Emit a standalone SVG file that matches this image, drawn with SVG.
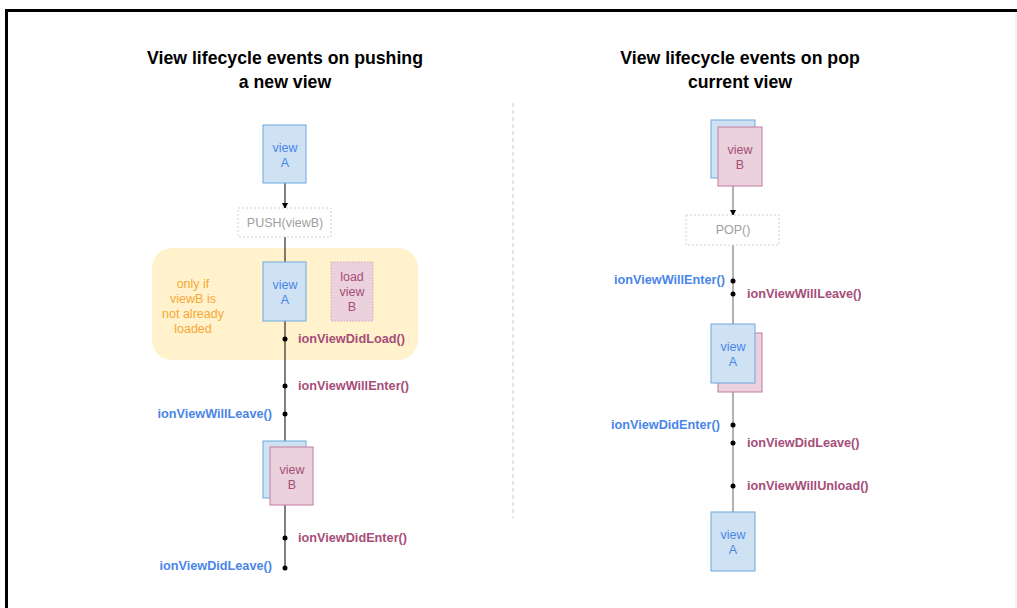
<svg xmlns="http://www.w3.org/2000/svg" width="1017" height="608" viewBox="0 0 1017 608">
<defs>
<marker id="ah" markerWidth="6" markerHeight="6" refX="5" refY="3" orient="auto" markerUnits="userSpaceOnUse"><path d="M0,0 L6,3 L0,6 z" fill="#000"/></marker>
<style>
text{font-family:"Liberation Sans",Arial,sans-serif}
.title{font-size:17.7px;font-weight:bold;fill:#000;text-anchor:middle}
.blue{fill:#cfe2f3;stroke:#6fa8dc;stroke-width:1}
.pink{fill:#ead1dc;stroke:#c27ba0;stroke-width:1}
.bt{fill:#4a86e8;font-size:12.5px;text-anchor:middle}
.pt{fill:#a64d79;font-size:12.5px;text-anchor:middle}
.ev{font-size:12.7px;font-weight:bold}
.evb{fill:#4a86e8;text-anchor:end}
.evp{fill:#a64d79}
.op{fill:#fff;stroke:#d0d0d0;stroke-dasharray:2,2;stroke-width:1}
.opt{fill:#a0a0a0;font-size:12.5px;text-anchor:middle}
.dot{fill:#000}
.note{font-size:12.5px;fill:#f6a735;text-anchor:middle}
</style>
</defs>
<rect x="0" y="0" width="1017" height="608" fill="#fff"/>
<path d="M6.5,608 V10.5 H1017" fill="none" stroke="#000" stroke-width="3"/>
<line x1="1016" y1="12" x2="1016" y2="608" stroke="#e6e6e6" stroke-width="1"/>
<line x1="513" y1="103" x2="513" y2="518" stroke="#cccccc" stroke-width="1" stroke-dasharray="4,3"/>

<text class="title" x="285" y="64">View lifecycle events on pushing</text>
<text class="title" x="285" y="88">a new view</text>
<text class="title" x="740" y="64">View lifecycle events on pop</text>
<text class="title" x="740" y="88">current view</text>

<g id="optional-region">
<rect x="152" y="248" width="266" height="112" rx="20" fill="#fff2cc"/>
<text class="note" x="193" y="288">only if</text>
<text class="note" x="193" y="303">viewB is</text>
<text class="note" x="193" y="318">not already</text>
<text class="note" x="193" y="333">loaded</text>
</g>

<g id="connectors">
<line x1="285" y1="183" x2="285" y2="208" stroke="#000" stroke-width="1" marker-end="url(#ah)"/>
<line x1="285" y1="237" x2="285" y2="568" stroke="#000" stroke-width="1"/>
<line x1="733" y1="186" x2="733" y2="215" stroke="#999" stroke-width="1.5" marker-end="url(#ah)"/>
<line x1="733" y1="245" x2="733" y2="512" stroke="#999" stroke-width="1.5"/>
</g>

<g id="left-viewA-top">
<rect class="blue" x="263" y="125" width="43" height="58"/>
<text class="bt" x="285" y="152">view</text>
<text class="bt" x="285" y="167">A</text>
</g>
<g id="push">
<rect class="op" x="238" y="208" width="93" height="29"/>
<text class="opt" x="285" y="227">PUSH(viewB)</text>
</g>
<g id="left-viewA-mid">
<rect class="blue" x="263" y="262" width="43" height="59"/>
<text class="bt" x="285" y="289">view</text>
<text class="bt" x="285" y="304">A</text>
</g>
<g id="load-viewB">
<rect x="331" y="262" width="42" height="59" fill="#ead1dc" stroke="#d5a6bd" stroke-dasharray="1.5,1.5"/>
<text class="pt" x="352" y="281">load</text>
<text class="pt" x="352" y="296">view</text>
<text class="pt" x="352" y="311">B</text>
</g>
<g id="left-viewB">
<rect class="blue" x="263" y="441" width="43" height="57"/>
<rect class="pink" x="270" y="447" width="43" height="58"/>
<text class="pt" x="292" y="474">view</text>
<text class="pt" x="292" y="489">B</text>
</g>

<g id="left-events">
<circle class="dot" cx="285" cy="339" r="2.5"/>
<text class="ev evp" x="298" y="343">ionViewDidLoad()</text>
<circle class="dot" cx="285" cy="386" r="2.5"/>
<text class="ev evp" x="298" y="390">ionViewWillEnter()</text>
<circle class="dot" cx="285" cy="414" r="2.5"/>
<text class="ev evb" x="272" y="418">ionViewWillLeave()</text>
<circle class="dot" cx="285" cy="538" r="2.5"/>
<text class="ev evp" x="298" y="542">ionViewDidEnter()</text>
<circle class="dot" cx="285" cy="568" r="2.5"/>
<text class="ev evb" x="272" y="570">ionViewDidLeave()</text>
</g>

<g id="right-viewB">
<rect class="blue" x="711" y="120" width="44" height="58"/>
<rect class="pink" x="718" y="127" width="44" height="59"/>
<text class="pt" x="740" y="154">view</text>
<text class="pt" x="740" y="169">B</text>
</g>
<g id="pop">
<rect class="op" x="686" y="215" width="93" height="30"/>
<text class="opt" x="733" y="234">POP()</text>
</g>
<g id="right-viewA-mid">
<rect class="pink" x="718" y="333" width="44" height="59"/>
<rect class="blue" x="711" y="324" width="44" height="59"/>
<text class="bt" x="733" y="351">view</text>
<text class="bt" x="733" y="366">A</text>
</g>
<g id="right-viewA-bottom">
<rect class="blue" x="711" y="512" width="44" height="59"/>
<text class="bt" x="733" y="539">view</text>
<text class="bt" x="733" y="554">A</text>
</g>

<g id="right-events">
<circle class="dot" cx="733" cy="281" r="2.5"/>
<text class="ev evb" x="725" y="284">ionViewWillEnter()</text>
<circle class="dot" cx="733" cy="294" r="2.5"/>
<text class="ev evp" x="747" y="298">ionViewWillLeave()</text>
<circle class="dot" cx="733" cy="425" r="2.5"/>
<text class="ev evb" x="720" y="429">ionViewDidEnter()</text>
<circle class="dot" cx="733" cy="443" r="2.5"/>
<text class="ev evp" x="747" y="447">ionViewDidLeave()</text>
<circle class="dot" cx="733" cy="486" r="2.5"/>
<text class="ev evp" x="747" y="490">ionViewWillUnload()</text>
</g>
</svg>
